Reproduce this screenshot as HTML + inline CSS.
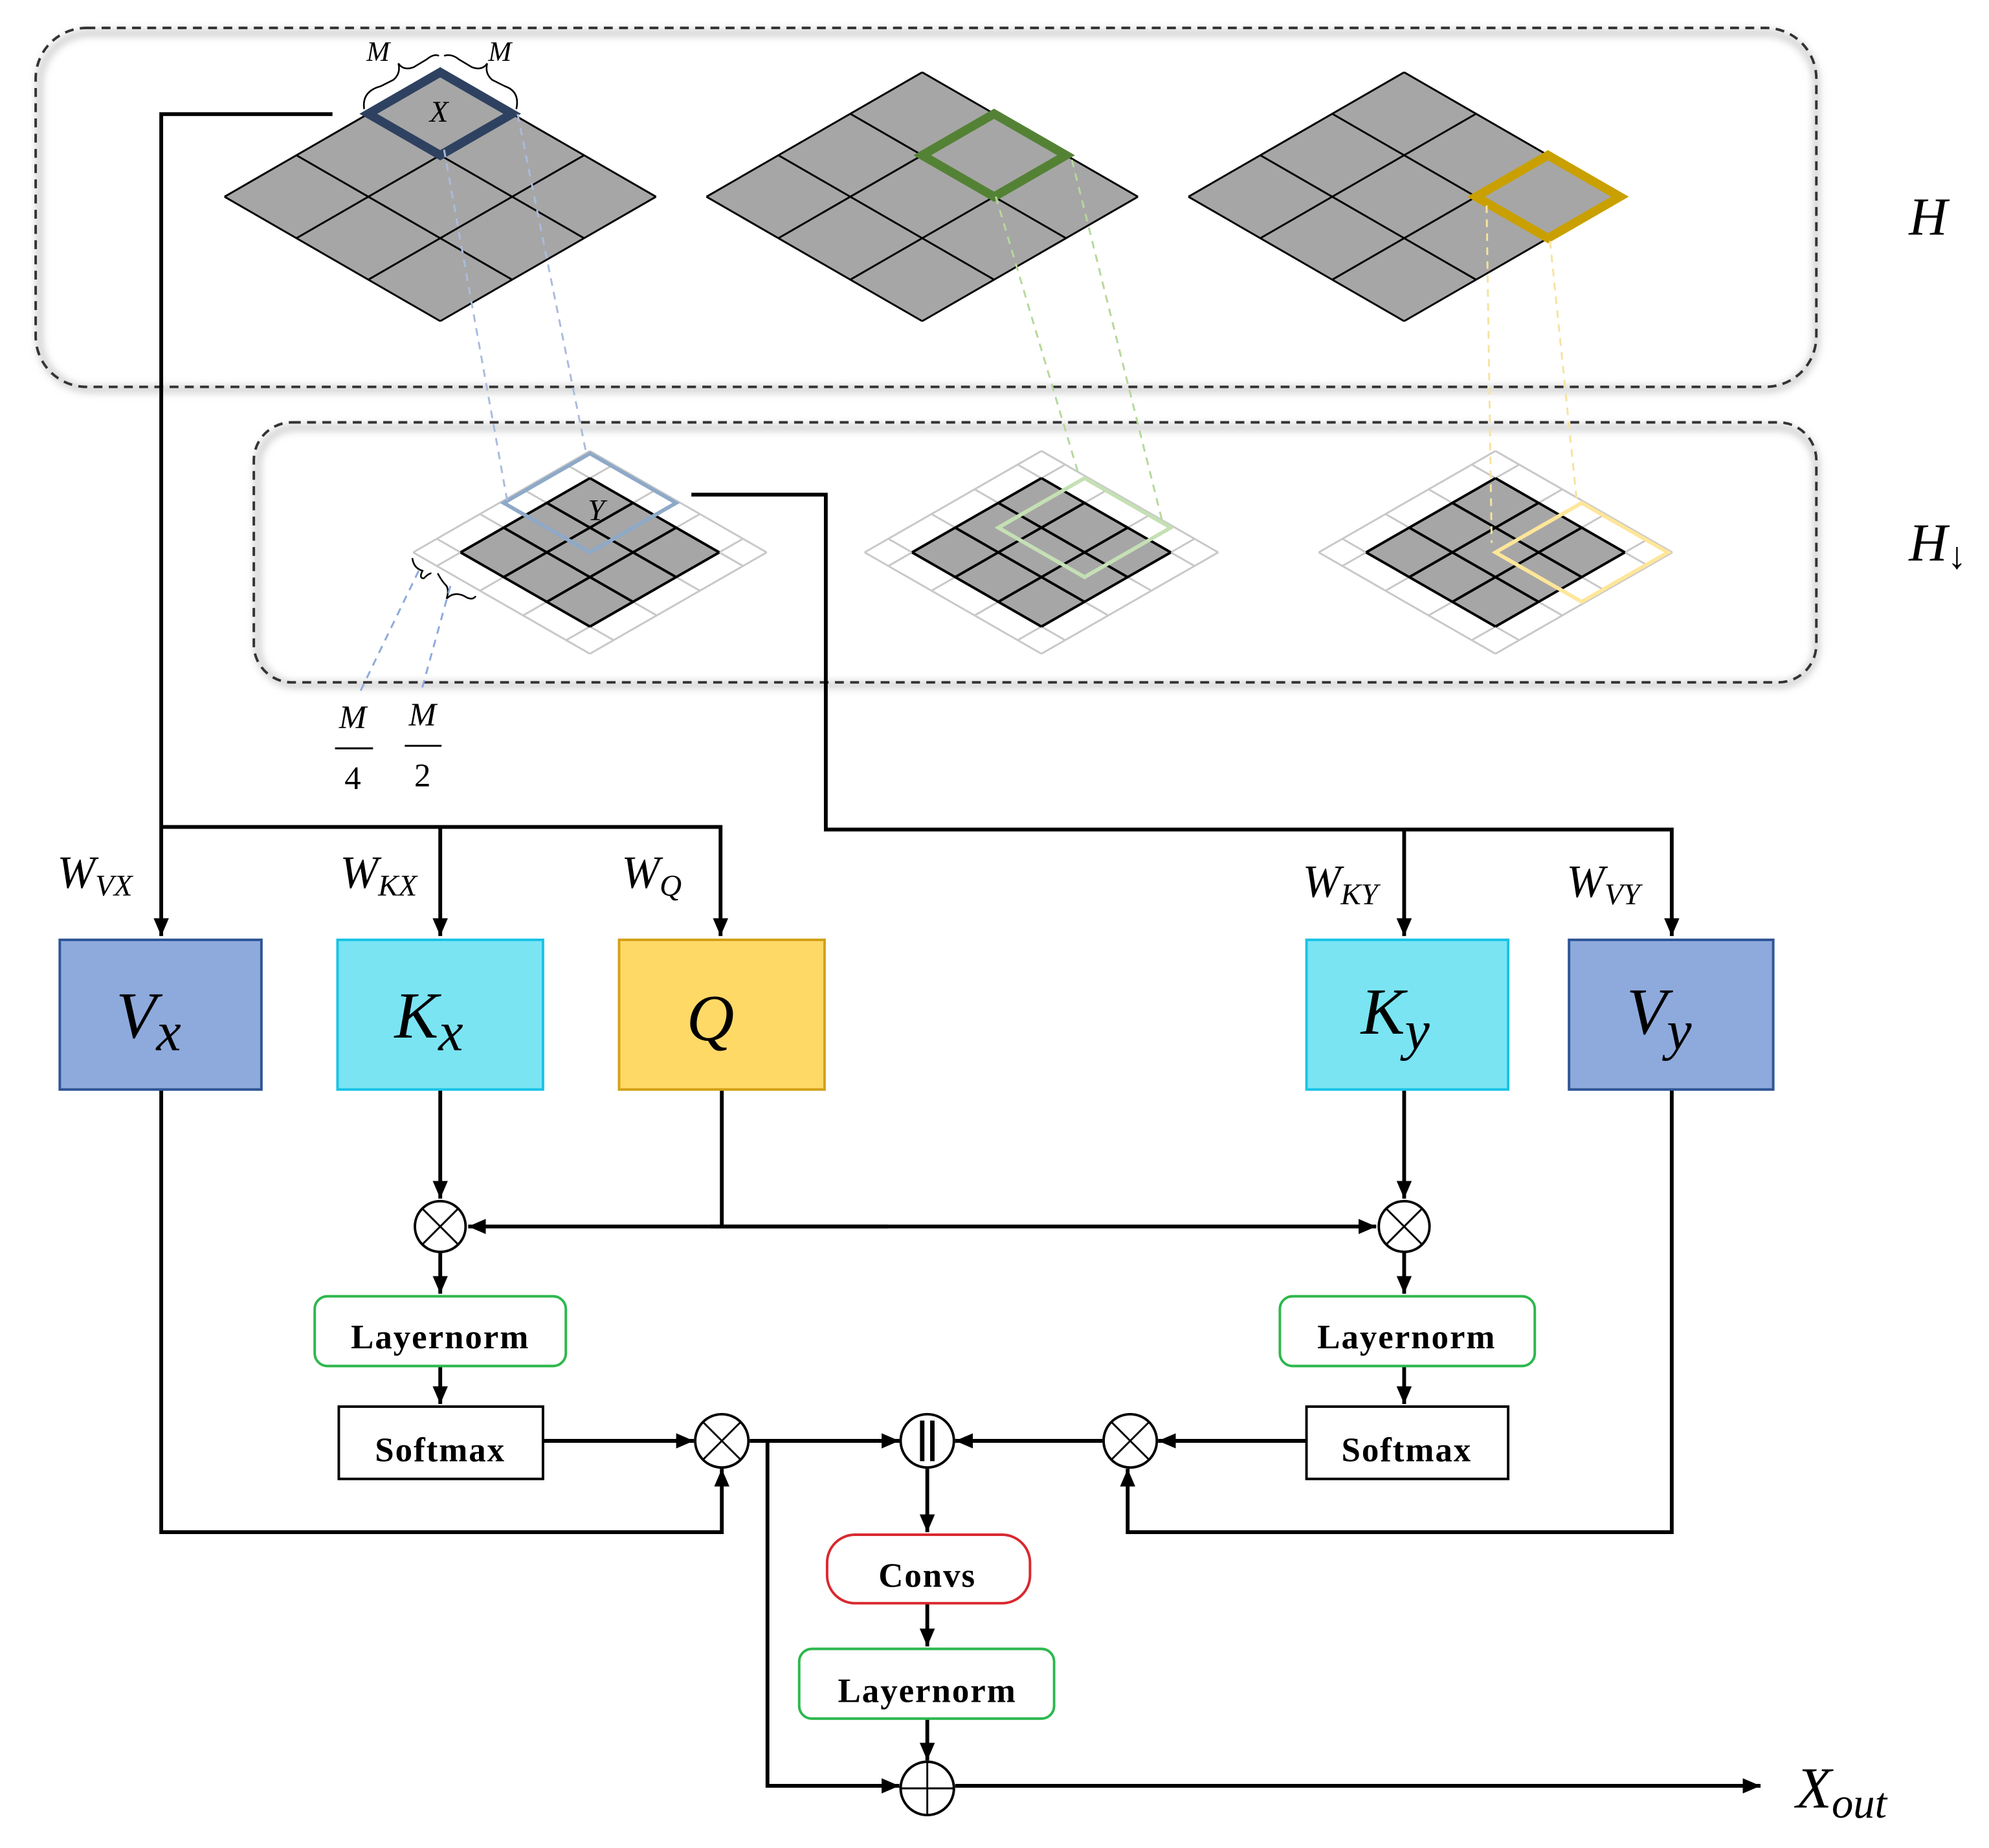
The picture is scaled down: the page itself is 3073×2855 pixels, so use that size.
<!DOCTYPE html>
<html><head><meta charset="utf-8"><style>
html,body{margin:0;padding:0;background:#fff;}
svg{display:block;}
.lbl{font-family:"Liberation Serif",serif;font-style:italic;}
.box{font-family:"Liberation Serif",serif;font-weight:bold;font-size:27px;letter-spacing:1px;}
</style></head><body>
<svg id="s" width="3073" height="2855" viewBox="0 0 1568 1457" xmlns="http://www.w3.org/2000/svg">
<defs>
<marker id="a" viewBox="0 0 14 12" refX="14" refY="6" markerWidth="14" markerHeight="12" orient="auto" markerUnits="userSpaceOnUse">
<path d="M0,0 L14,6 L0,12 z" fill="#000"/>
</marker>
<filter id="sh" x="-5%" y="-10%" width="110%" height="120%"><feGaussianBlur stdDeviation="3"/></filter>
</defs>
<!-- dashed containers -->
<rect x="31" y="26" width="1401" height="281" rx="40" fill="none" stroke="#ccc" stroke-width="5" filter="url(#sh)"/>
<rect x="28" y="22" width="1404" height="283" rx="40" fill="none" stroke="#333" stroke-width="2" stroke-dasharray="7,5"/>
<rect x="203" y="337" width="1229" height="203" rx="30" fill="none" stroke="#ccc" stroke-width="5" filter="url(#sh)"/>
<rect x="200" y="333" width="1232" height="205" rx="30" fill="none" stroke="#333" stroke-width="2" stroke-dasharray="7,5"/>
<g id="grids"></g>
<!-- connectors -->
<g stroke="#000" stroke-width="3" fill="none">
<polyline points="262,90 127,90 127,738" marker-end="url(#a)"/>
<polyline points="127,652 568,652 568,738" marker-end="url(#a)"/>
<line x1="347" y1="652" x2="347" y2="738" marker-end="url(#a)"/>
<polyline points="545,390 651,390 651,654 1318,654 1318,738" marker-end="url(#a)"/>
<line x1="1107" y1="654" x2="1107" y2="738" marker-end="url(#a)"/>
<line x1="347" y1="859" x2="347" y2="945" marker-end="url(#a)"/>
<line x1="1107" y1="859" x2="1107" y2="945" marker-end="url(#a)"/>
<line x1="569" y1="859" x2="569" y2="967"/>
<line x1="700" y1="967" x2="369" y2="967" marker-end="url(#a)"/>
<line x1="560" y1="967" x2="1085" y2="967" marker-end="url(#a)"/>
<line x1="347" y1="987" x2="347" y2="1020" marker-end="url(#a)"/>
<line x1="1107" y1="987" x2="1107" y2="1020" marker-end="url(#a)"/>
<line x1="347" y1="1077" x2="347" y2="1107" marker-end="url(#a)"/>
<line x1="1107" y1="1077" x2="1107" y2="1107" marker-end="url(#a)"/>
<line x1="428" y1="1136" x2="547" y2="1136" marker-end="url(#a)"/>
<line x1="1030" y1="1136" x2="913" y2="1136" marker-end="url(#a)"/>
<polyline points="127,859 127,1208 569,1208 569,1158" marker-end="url(#a)"/>
<polyline points="1318,859 1318,1208 889,1208 889,1158" marker-end="url(#a)"/>
<line x1="591" y1="1136" x2="709" y2="1136" marker-end="url(#a)"/>
<line x1="869" y1="1136" x2="753" y2="1136" marker-end="url(#a)"/>
<line x1="731" y1="1158" x2="731" y2="1208" marker-end="url(#a)"/>
<line x1="731" y1="1264" x2="731" y2="1298" marker-end="url(#a)"/>
<line x1="731" y1="1355" x2="731" y2="1388" marker-end="url(#a)"/>
<polyline points="605,1136 605,1408 709,1408" marker-end="url(#a)"/>
<line x1="753" y1="1408" x2="1388" y2="1408" marker-end="url(#a)"/>
</g>
<!-- boxes -->
<rect x="47" y="741" width="159" height="118" fill="#8eaadc" stroke="#2f5597" stroke-width="2"/>
<rect x="266" y="741" width="162" height="118" fill="#7ae4f3" stroke="#19c3e6" stroke-width="2"/>
<rect x="488" y="741" width="162" height="118" fill="#ffd966" stroke="#d4a017" stroke-width="2"/>
<rect x="1030" y="741" width="159" height="118" fill="#7ae4f3" stroke="#19c3e6" stroke-width="2"/>
<rect x="1237" y="741" width="161" height="118" fill="#8eaadc" stroke="#2f5597" stroke-width="2"/>
<g class="lbl" font-size="52" text-anchor="middle">
<text x="117" y="818">V<tspan font-size="44" dy="10">x</tspan></text>
<text x="338" y="818">K<tspan font-size="44" dy="10">x</tspan></text>
<text x="560" y="820">Q</text>
<text x="1100" y="815">K<tspan font-size="44" dy="12">y</tspan></text>
<text x="1308" y="815">V<tspan font-size="44" dy="12">y</tspan></text>
</g>
<g class="lbl" font-size="36">
<text x="45" y="700">W<tspan font-size="24" dy="6">VX</tspan></text>
<text x="268" y="700">W<tspan font-size="24" dy="6">KX</tspan></text>
<text x="490" y="700">W<tspan font-size="24" dy="6">Q</tspan></text>
<text x="1027" y="707">W<tspan font-size="24" dy="6">KY</tspan></text>
<text x="1235" y="707">W<tspan font-size="24" dy="6">VY</tspan></text>
<text x="1505" y="185" font-size="42">H</text>
<text x="1505" y="442" font-size="42">H<tspan font-size="30" dy="6" font-style="normal">↓</tspan></text>
<text x="1416" y="1425" font-size="46">X<tspan font-size="34" dy="8">out</tspan></text>
</g>
<!-- small boxes -->
<g fill="#fff" stroke-width="2">
<rect x="248" y="1022" width="198" height="55" rx="10" stroke="#2db84d"/>
<rect x="1009" y="1022" width="201" height="55" rx="10" stroke="#2db84d"/>
<rect x="267" y="1109" width="161" height="57" stroke="#000"/>
<rect x="1030" y="1109" width="159" height="57" stroke="#000"/>
<rect x="652" y="1210" width="160" height="54" rx="22" stroke="#d9282f"/>
<rect x="630" y="1300" width="201" height="55" rx="10" stroke="#2db84d"/>
</g>
<g class="box" text-anchor="middle">
<text x="347" y="1063">Layernorm</text>
<text x="1109" y="1063">Layernorm</text>
<text x="347" y="1152">Softmax</text>
<text x="1109" y="1152">Softmax</text>
<text x="731" y="1251">Convs</text>
<text x="731" y="1342">Layernorm</text>
</g>
<!-- operators -->
<g fill="#fff" stroke="#000" stroke-width="2">
<circle cx="347" cy="967" r="20"/><circle cx="1107" cy="967" r="20"/>
<circle cx="569" cy="1136" r="21"/><circle cx="891" cy="1136" r="21"/>
<circle cx="731" cy="1136" r="21"/><circle cx="731" cy="1410" r="21"/>
</g>
<g stroke="#000" stroke-width="1.5">
<path d="M333,953 L361,981 M361,953 L333,981"/>
<path d="M1093,953 L1121,981 M1121,953 L1093,981"/>
<path d="M554,1121 L584,1151 M584,1121 L554,1151"/>
<path d="M876,1121 L906,1151 M906,1121 L876,1151"/>
<path d="M710,1410 L752,1410 M731,1389 L731,1431"/>
<path d="M727,1120 L727,1152 M735,1120 L735,1152" stroke-width="3.5"/>
</g>
<!-- braces & fractions -->
<g fill="none" stroke="#000" stroke-width="1.3">
<path d="M287,86 Q285,72 300,68 L310,63 Q316,58 314,50 Q318,56 326,53 L336,47 Q342,42 346,44"/>
<path d="M350,44 Q356,42 362,47 L372,53 Q380,56 384,50 Q382,58 388,63 L398,68 Q410,72 407,86"/>
<path d="M325,440 Q326,448 333,450 Q330,456 334,456 Q338,452 340,452"/>
<path d="M345,452 Q348,458 352,462 Q354,466 352,472 Q358,466 366,470 Q372,474 375,470"/>
</g>
<g class="lbl" font-size="22" text-anchor="middle">
<text x="298" y="48">M</text><text x="394" y="48">M</text>
<text x="470" y="410" font-size="24">Y</text>
<text x="346" y="96" font-size="24">X</text>
<text x="278" y="574" font-size="26">M</text><text x="278" y="622" font-size="26" font-style="normal">4</text>
<text x="333" y="572" font-size="26">M</text><text x="333" y="620" font-size="26" font-style="normal">2</text>
</g>
<line x1="264" y1="590" x2="294" y2="590" stroke="#000" stroke-width="1.5"/>
<line x1="319" y1="588" x2="348" y2="588" stroke="#000" stroke-width="1.5"/>
<g stroke-width="1.5" stroke-dasharray="6,5" fill="none">
<line x1="330" y1="450" x2="284" y2="545" stroke="#8eaadc"/>
<line x1="355" y1="462" x2="332" y2="545" stroke="#8eaadc"/>
<line x1="350" y1="118" x2="400" y2="396" stroke="#aabbdd"/>
<line x1="408" y1="90" x2="462" y2="357" stroke="#aabbdd"/>
<line x1="785" y1="155" x2="850" y2="373" stroke="#b6d89a"/>
<line x1="845" y1="126" x2="916" y2="410" stroke="#b6d89a"/>
<line x1="1172" y1="162" x2="1176" y2="428" stroke="#f6e3a0"/>
<line x1="1222" y1="190" x2="1243" y2="394" stroke="#f6e3a0"/>
</g>
</svg>
<script>
var g=document.getElementById('grids'),NS='http://www.w3.org/2000/svg';
function el(t,a){var e=document.createElementNS(NS,t);for(var k in a)e.setAttribute(k,a[k]);g.appendChild(e);return e;}
function P(o,u,v,s){return [o[0]+(u-v)*s[0],o[1]+(u+v)*s[1]];}
function quad(o,s,u0,u1,v0,v1){var p=[P(o,u0,v0,s),P(o,u1,v0,s),P(o,u1,v1,s),P(o,u0,v1,s)];return p.map(function(q){return q[0].toFixed(1)+','+q[1].toFixed(1)}).join(' ');}
function lines(o,s,vals,lo,hi,col,w){for(var i=0;i<vals.length;i++){var a=P(o,vals[i],lo,s),b=P(o,vals[i],hi,s);el('line',{x1:a[0],y1:a[1],x2:b[0],y2:b[1],stroke:col,'stroke-width':w});a=P(o,lo,vals[i],s);b=P(o,hi,vals[i],s);el('line',{x1:a[0],y1:a[1],x2:b[0],y2:b[1],stroke:col,'stroke-width':w});}}
var S=[56.7,32.7];
[[347,57],[727,57],[1107,57]].forEach(function(o){el('polygon',{points:quad(o,S,0,3,0,3),fill:'#a6a6a6'});lines(o,S,[0,1,2,3],0,3,'#000',1.5);});
el('polygon',{points:quad([347,57],S,0,1,0,1),fill:'none',stroke:'#2e4160','stroke-width':7});
el('polygon',{points:quad([727,57],S,1,2,0,1),fill:'none',stroke:'#548235','stroke-width':7});
el('polygon',{points:quad([1107,57],S,2,3,0,1),fill:'none',stroke:'#c9a000','stroke-width':7});
var s=[34,19.5];
[[465,377],[821,377],[1179,377]].forEach(function(o){
 el('polygon',{points:quad(o,s,-0.55,3.55,-0.55,3.55),fill:'#fff'});
 lines(o,s,[-0.55,0,1,2,3,3.55],-0.55,3.55,'#c8c8c8',1.5);
 el('polygon',{points:quad(o,s,0,3,0,3),fill:'#a6a6a6'});
 lines(o,s,[0,1,2,3],0,3,'#000',2);
});
el('polygon',{points:quad([465,377],s,-0.5,1.5,-0.5,1.5),fill:'none',stroke:'#8ea9c8','stroke-width':3});
el('polygon',{points:quad([821,377],s,0.5,2.5,-0.5,1.5),fill:'none',stroke:'#c5e0b4','stroke-width':3});
el('polygon',{points:quad([1179,377],s,1.5,3.5,-0.5,1.5),fill:'none',stroke:'#ffe699','stroke-width':3});
</script>
</body></html>
